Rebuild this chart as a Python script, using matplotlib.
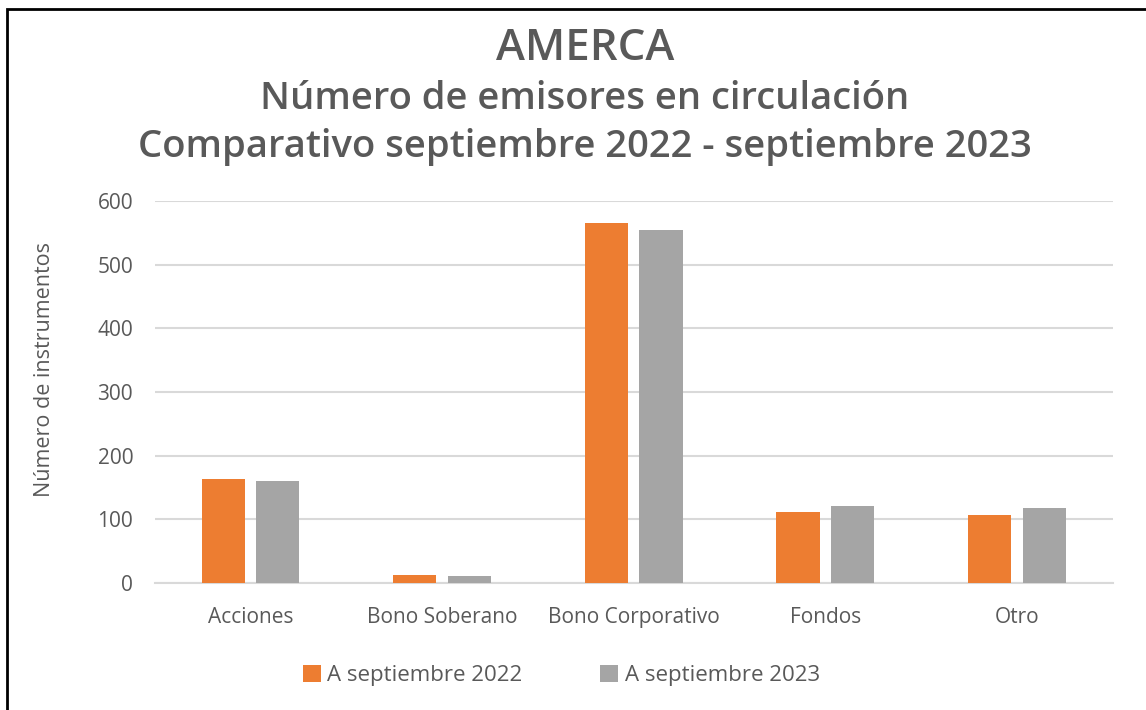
import numpy as np
import matplotlib.pyplot as plt
from matplotlib.patches import Rectangle

plt.rcParams['font.family'] = ['Open Sans', 'DejaVu Sans']

categories = ['Acciones', 'Bono Soberano', 'Bono Corporativo', 'Fondos', 'Otro']
sep_2022 = [163, 12, 565, 112, 106]
sep_2023 = [160, 11, 554, 121, 118]
series_labels = ['A septiembre 2022', 'A septiembre 2023']
yticks = [0, 100, 200, 300, 400, 500, 600]

text_color = '#595959'
orange = '#ED7D31'
gray = '#A5A5A5'

fig = plt.figure(figsize=(11.46, 7.1), dpi=100)
ax = fig.add_axes([0.135, 0.179, 0.836, 0.538])

# black frame around the chart (left and top edges visible)
fig.patches.append(Rectangle((7 / 1146, -0.1), 1.2, 1 - 9 / 710 + 0.1,
                             transform=fig.transFigure, fill=False,
                             edgecolor='black', linewidth=2))

x = np.arange(len(categories))
w = 0.225
off = 0.1425
ax.bar(x - off, sep_2022, w, color=orange, label=series_labels[0], zorder=3)
ax.bar(x + off, sep_2023, w, color=gray, label=series_labels[1], zorder=3)

ax.set_xlim(-0.5, len(categories) - 0.5)
ax.set_ylim(0, 600)
ax.set_yticks(yticks)
ax.set_xticks(x)
ax.set_xticklabels(categories)
ax.yaxis.grid(True, color='#D9D9D9', linewidth=1.5, zorder=0)
ax.tick_params(axis='both', length=0, labelsize=15, colors=text_color)
ax.tick_params(axis='x', pad=17)
ax.tick_params(axis='y', pad=15.5)
for s in ['top', 'right', 'left']:
    ax.spines[s].set_visible(False)
ax.spines['bottom'].set_color('#D9D9D9')
ax.spines['bottom'].set_linewidth(1.5)
ax.set_ylabel('Número de instrumentos', fontsize=15.5, color=text_color)
ax.yaxis.set_label_coords(-0.104, 0.56)

tx = 0.5105
fig.text(tx, 0.931, 'AMERCA', ha='center', va='center', fontsize=31.5,
         fontweight='semibold', color=text_color)
fig.text(tx, 0.861, 'Número de emisores en circulación', ha='center', va='center',
         fontsize=27.5, fontweight='semibold', color=text_color)
fig.text(tx, 0.793, 'Comparativo septiembre 2022 - septiembre 2023', ha='center',
         va='center', fontsize=27.5, fontweight='semibold', color=text_color)

leg = fig.legend(loc='center', bbox_to_anchor=(0.49, 0.049), ncol=2, frameon=False,
                 fontsize=16, handlelength=0.8, handleheight=0.8,
                 handletextpad=0.3, columnspacing=3.5)
for t in leg.get_texts():
    t.set_color(text_color)

fig.savefig('out.png', dpi=100, facecolor='white')
